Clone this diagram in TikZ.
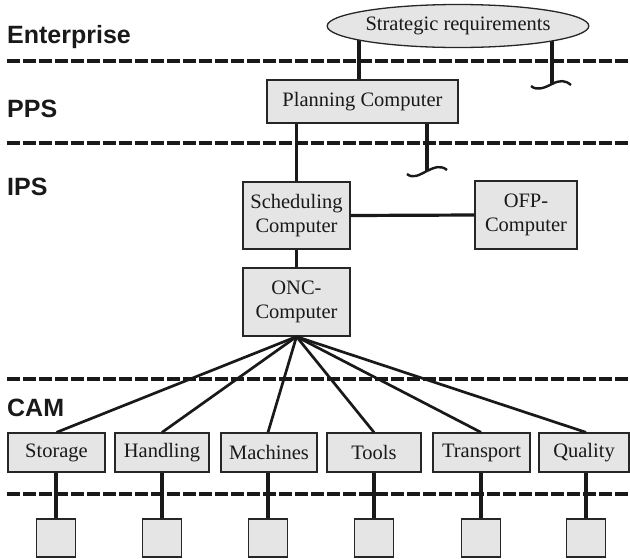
\documentclass[tikz,border=0pt]{standalone}
\usepackage{fontspec}
\setmainfont{Liberation Serif}
\newfontfamily\serfont{Liberation Serif}
\newfontfamily\labfont{Liberation Sans}
\usetikzlibrary{shapes.geometric,backgrounds}
\begin{document}
\begin{tikzpicture}[x=1pt,y=-1pt,
  box/.style={draw=black!85,line width=1.3pt,fill=black!10,inner sep=0pt,
    font=\serfont\fontsize{20.5}{24}\selectfont,align=center,text=black!90},
  cambox/.style={box,minimum width=96pt,minimum height=39pt},
  leaf/.style={draw=black!85,line width=1.3pt,fill=black!10,minimum width=39pt,
    minimum height=38pt,inner sep=0pt},
  conn/.style={line width=3.2pt,black!90},
  fan/.style={line width=2.7pt,black!90},
  layer/.style={line width=3.8pt,dash pattern=on 12.5pt off 3.5pt,black!90},
  lab/.style={anchor=base west,font=\labfont\bfseries\fontsize{25}{30}\selectfont,
    inner sep=0pt,text=black!90}]
\useasboundingbox (0,0) rectangle (630,558);

% layer separators
\draw[layer] (7,61) -- (630,61);
\draw[layer] (7,143) -- (630,143);
\draw[layer] (7,379) -- (630,379);
\draw[layer] (7,494) -- (630,494);

% layer labels
\node[lab] (le) at (7,43) {Enterprise};
\node[lab] (lp) at (7,117) {PPS};
\node[lab] (li) at (7,195) {IPS};
\node[lab] (lc) at (7,416) {CAM};

% upper nodes
\node[ellipse,draw=black!85,line width=1.3pt,fill=black!10,inner sep=0pt,
  minimum width=241pt,minimum height=43pt,font=\serfont\fontsize{20.5}{24}\selectfont,text=black!90]
  (sr) at (458,26) {Strategic requirements};
\node[box,minimum width=191pt,minimum height=43pt] (pc) at (362.5,101.5) {Planning Computer};
\node[box,minimum width=107pt,minimum height=67pt] (sc) at (296.5,215.5) {Scheduling\\Computer};
\node[box,minimum width=102pt,minimum height=68pt] (ofp) at (526,215) {OFP-\\Computer};
\node[box,minimum width=107pt,minimum height=68pt] (onc) at (296.5,302) {ONC-\\Computer};

% CAM boxes
\node[cambox,minimum width=97pt] (st) at (56.5,452.5) {Storage};
\node[cambox,minimum width=94pt] (ha) at (162,452.5) {Handling};
\node[cambox] (ma) at (269,452.5) {Machines};
\node[cambox,minimum width=94pt] (to) at (374,452.5) {Tools};
\node[cambox,minimum width=97pt] (tr) at (481.5,452.5) {Transport};
\node[cambox,minimum width=90pt] (qu) at (584,452.5) {Quality};

% leaves
\node[leaf] (l1) at (56,538) {};
\node[leaf] (l2) at (162,538) {};
\node[leaf] (l3) at (268,538) {};
\node[leaf] (l4) at (374,538) {};
\node[leaf] (l5) at (481,538) {};
\node[leaf] (l6) at (586,538) {};

% named free ends
\coordinate (a1) at (359,26);
\coordinate (t1) at (552,84);
\coordinate (t2) at (427,171);

\begin{scope}[on background layer]
  \draw[conn] (a1) -- (a1 |- pc.north);
  \draw[conn] (t1 |- sr.center) -- (t1);
  \draw[conn] (t2 |- pc.south) -- (t2);
\end{scope}

% squiggles
\draw[conn,line width=2.4pt] (t1) ++(-21,2) .. controls +(6,5) and +(-8,4) .. (t1)
   .. controls +(8,-4) and +(-6,-5) .. ++(19,1);
\draw[conn,line width=2.4pt] (t2) ++(-20,3) .. controls +(6,5) and +(-8,4) .. (t2)
   .. controls +(8,-4) and +(-6,-5) .. ++(20,-1);

% connectors
\draw[conn] (sc.north) -- (sc.north |- pc.south);
\draw[conn] (sc.east) -- (ofp.west);
\draw[conn] (sc.south) -- (onc.north);

\draw[fan] (onc.south) -- (st.north);
\draw[fan] (onc.south) -- (ha.north);
\draw[fan] (onc.south) -- (l3.north |- ma.north);
\draw[fan] (onc.south) -- (to.north);
\draw[fan] (onc.south) -- (l5.north |- tr.north);
\draw[fan] (onc.south) -- (l6.north |- qu.north);

\draw[conn] (l1.north |- st.south) -- (l1.north);
\draw[conn] (l2.north |- ha.south) -- (l2.north);
\draw[conn] (l3.north |- ma.south) -- (l3.north);
\draw[conn] (l4.north |- to.south) -- (l4.north);
\draw[conn] (l5.north |- tr.south) -- (l5.north);
\draw[conn] (l6.north |- qu.south) -- (l6.north);
\end{tikzpicture}
\end{document}
